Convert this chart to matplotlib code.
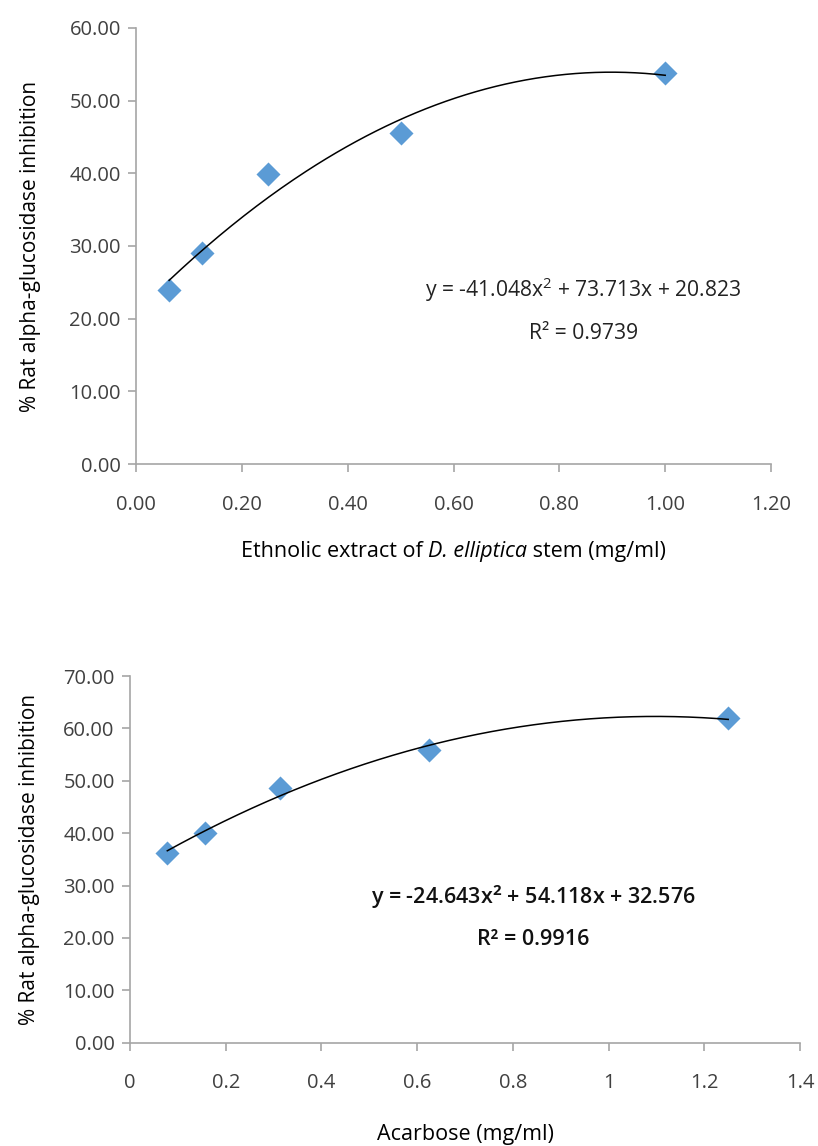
import numpy as np
import matplotlib
matplotlib.use("Agg")
import matplotlib.pyplot as plt
from matplotlib.offsetbox import TextArea, HPacker, AnchoredOffsetbox

# ── Data ──────────────────────────────────────────────────────────────────────
extract_conc = [0.0625, 0.125, 0.25, 0.5, 1.0]
extract_inhib = [24.0, 29.1, 39.9, 45.5, 53.8]
extract_coef = [-41.048, 73.713, 20.823]
extract_r2 = 0.9739

acarbose_conc = [0.078, 0.156, 0.3125, 0.625, 1.25]
acarbose_inhib = [36.3, 40.0, 48.7, 55.9, 62.0]
acarbose_coef = [-24.643, 54.118, 32.576]
acarbose_r2 = 0.9916

top_xticks = [0.0, 0.2, 0.4, 0.6, 0.8, 1.0, 1.2]
top_yticks = [0, 10, 20, 30, 40, 50, 60]
bot_xticks = [0, 0.2, 0.4, 0.6, 0.8, 1, 1.2, 1.4]
bot_yticks = [0, 10, 20, 30, 40, 50, 60, 70]

YLABEL = "% Rat alpha-glucosidase inhibition"

# ── Style ─────────────────────────────────────────────────────────────────────
plt.rcParams['font.family'] = ['Open Sans', 'DejaVu Sans']
plt.rcParams['mathtext.fontset'] = 'custom'
plt.rcParams['mathtext.rm'] = 'Open Sans'
plt.rcParams['mathtext.it'] = 'Open Sans:italic'
plt.rcParams['mathtext.bf'] = 'Open Sans:bold'

MARKER_COLOR = '#5B9BD5'
AXIS_COLOR = '#a6a6a6'
TICK_TEXT = '#404040'


def style_axes(ax, xticks, yticks, xfmt, yfmt):
    for side in ['top', 'right']:
        ax.spines[side].set_visible(False)
    for side in ['left', 'bottom']:
        ax.spines[side].set_color(AXIS_COLOR)
        ax.spines[side].set_linewidth(1.2)
    ax.set_xticks(xticks)
    ax.set_yticks(yticks)
    ax.set_xticklabels([xfmt(v) for v in xticks])
    ax.set_yticklabels([yfmt(v) for v in yticks])
    ax.tick_params(axis='both', direction='out', length=6, width=1.2,
                   color=AXIS_COLOR, labelcolor=TICK_TEXT, labelsize=14.5)
    ax.tick_params(axis='x', pad=16)
    ax.tick_params(axis='y', pad=5)


def draw_fit(ax, xs, coef):
    xx = np.linspace(min(xs), max(xs), 200)
    yy = np.polyval(coef, xx)
    ax.plot(xx, yy, color='black', lw=1.1, zorder=3)


fig = plt.figure(figsize=(8.18, 11.46), dpi=100)

# ── Top chart: ethanolic extract ──────────────────────────────────────────────
ax1 = fig.add_axes([0.1663, 0.5951, 0.7763, 0.3805])
ax1.scatter(extract_conc, extract_inhib, marker='D', s=150,
            color=MARKER_COLOR, zorder=2, linewidths=0)
draw_fit(ax1, extract_conc, extract_coef)
ax1.set_xlim(0, 1.2)
ax1.set_ylim(0, 60)
style_axes(ax1, top_xticks, top_yticks,
           lambda v: f"{v:.2f}", lambda v: f"{v:.2f}")
ax1.set_ylabel(YLABEL, fontsize=15, labelpad=20)

# x label with italic species name, built from three pieces
lab_props = dict(fontsize=15.5, color='black')
parts = [TextArea("Ethnolic extract of\u00a0", textprops=lab_props),
         TextArea("D. elliptica", textprops=dict(lab_props, style='italic')),
         TextArea("\u00a0stem (mg/ml)", textprops=lab_props)]
xlab = AnchoredOffsetbox(loc='center', child=HPacker(children=parts, sep=0, pad=0),
                         bbox_to_anchor=(0.5, -0.2), bbox_transform=ax1.transAxes,
                         frameon=False, pad=0, borderpad=0)
ax1.add_artist(xlab)

a, b, c = extract_coef
ax1.text(0.845, 24.0, f"y = {a:.3f}x$^2$ + {b:.3f}x + {c:.3f}",
         ha='center', va='center', fontsize=15.2, color='#222222')
ax1.text(0.845, 18.0, f"R² = {extract_r2:.4f}",
         ha='center', va='center', fontsize=15.2, color='#222222')

# ── Bottom chart: acarbose ────────────────────────────────────────────────────
ax2 = fig.add_axes([0.1589, 0.0901, 0.8191, 0.3200])
ax2.scatter(acarbose_conc, acarbose_inhib, marker='D', s=150,
            color=MARKER_COLOR, zorder=2, linewidths=0)
draw_fit(ax2, acarbose_conc, acarbose_coef)
ax2.set_xlim(0, 1.4)
ax2.set_ylim(0, 70)
style_axes(ax2, bot_xticks, bot_yticks,
           lambda v: f"{v:g}", lambda v: f"{v:.2f}")
ax2.set_xlabel("Acarbose (mg/ml)", fontsize=15.5, labelpad=22)
ax2.set_ylabel(YLABEL, fontsize=15, labelpad=17)
a, b, c = acarbose_coef
ax2.text(0.842, 27.8, rf"y = {a:.3f}x$^\mathbf{{2}}$ + {b:.3f}x + {c:.3f}",
         ha='center', va='center', fontsize=15.5, fontweight='semibold',
         color='#111111')
ax2.text(0.842, 19.8, f"R² = {acarbose_r2:.4f}",
         ha='center', va='center', fontsize=15.5, fontweight='semibold',
         color='#111111')

fig.savefig("out.png", dpi=100)
